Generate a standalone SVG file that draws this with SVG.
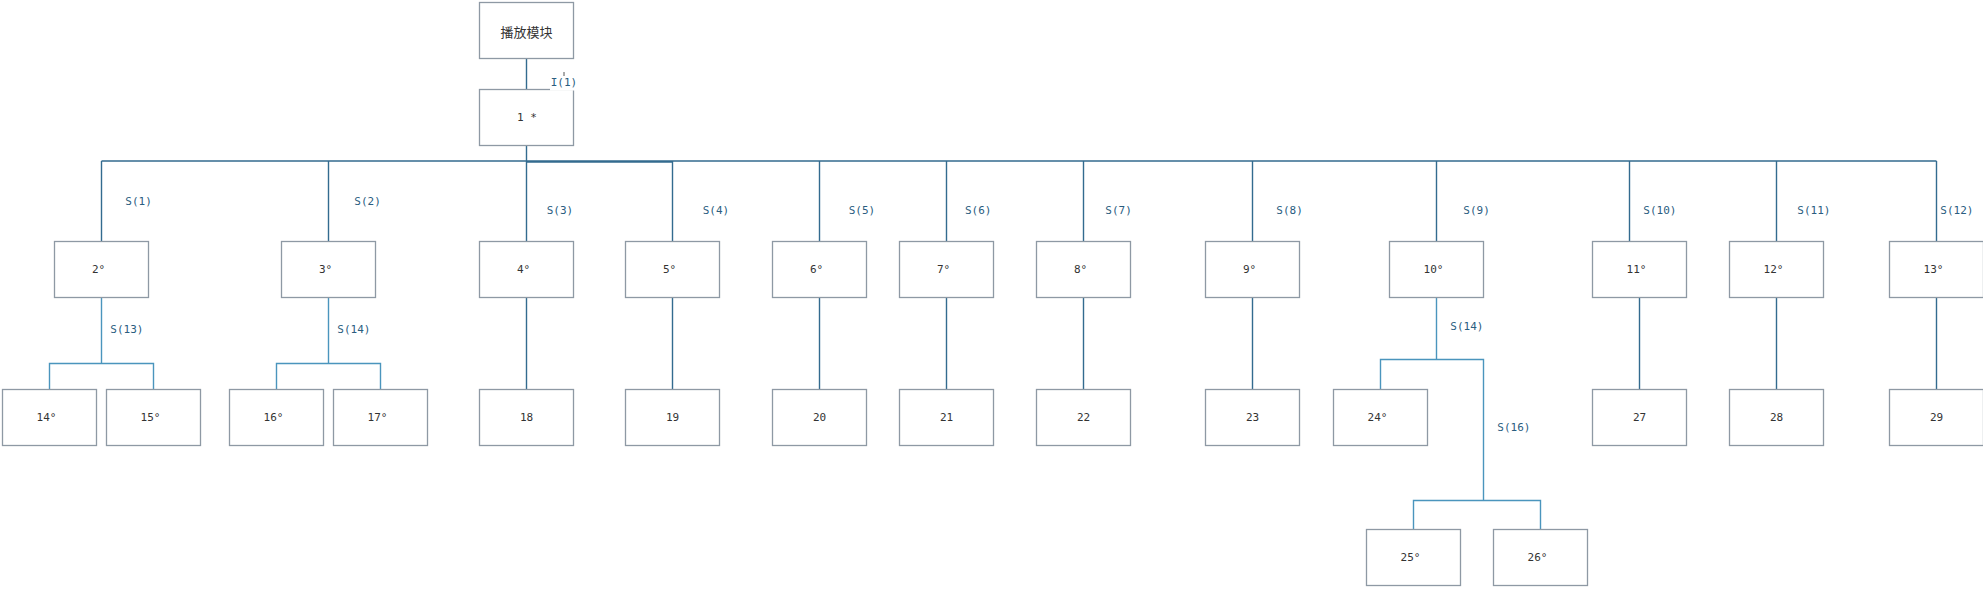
<svg xmlns="http://www.w3.org/2000/svg" width="1983" height="612" viewBox="0 0 1983 612">
<style>
.box{fill:#fff;stroke:#8e99a4;stroke-width:1.3}
.t{font-family:"DejaVu Sans Mono","Liberation Mono",monospace;font-size:11px;fill:#333;text-anchor:middle;dominant-baseline:central}
.cn{font-family:"Noto Sans CJK SC",sans-serif;font-size:13px;fill:#333;text-anchor:middle;dominant-baseline:central}
.lbl{font-family:"DejaVu Sans Mono","Liberation Mono",monospace;font-size:11px;fill:#2a5d7f;dominant-baseline:central}
.c1{fill:none;stroke:#336b8f;stroke-width:1.4}
.c2{fill:none;stroke:#4a95bd;stroke-width:1.4}
</style>
<rect width="1983" height="612" fill="#fff"/>
<g id="connectors">
<path class="c1" d="M526.5 58.5V89.5M526.5 145.5V161M101.5 161H1936.5M526.5 162H672.5"/>
<path class="c1" d="M101.5 161V241.5M328.5 161V241.5M526.5 161V241.5M672.5 161V241.5M819.5 161V241.5M946.5 161V241.5M1083.5 161V241.5M1252.5 161V241.5M1436.5 161V241.5M1629.5 161V241.5M1776.5 161V241.5M1936.5 161V241.5"/>
<path class="c1" d="M526.5 297.5V389.5M672.5 297.5V389.5M819.5 297.5V389.5M946.5 297.5V389.5M1083.5 297.5V389.5M1252.5 297.5V389.5M1639.5 297.5V389.5M1776.5 297.5V389.5M1936.5 297.5V389.5"/>
<path class="c2" d="M101.5 297.5V363.5M49.5 389.5V363.5H153.5V389.5"/>
<path class="c2" d="M328.5 297.5V363.5M276.5 389.5V363.5H380.5V389.5"/>
<path class="c2" d="M1436.5 297.5V359.5M1380.5 389.5V359.5H1483.5V500.5M1413.5 529.5V500.5H1540.5V529.5"/>
<line x1="564" y1="72" x2="564" y2="77" stroke="#555" stroke-width="1"/>
</g>
<g id="n_top"><rect class="box" x="479.5" y="2.5" width="94" height="56"/><text class="cn" x="526.5" y="31">播放模块</text></g>
<g id="n1"><rect class="box" x="479.5" y="89.5" width="94" height="56"/><text class="t" x="527" y="117.5">1 *</text></g>
<g id="lbl_i1"><rect x="550" y="76" width="27" height="14.5" fill="#fff"/><text class="lbl" x="550.7" y="82.3">I(1)</text></g>
<g id="n2"><rect class="box" x="54.5" y="241.5" width="94" height="56"/><text class="t" x="98.5" y="269.5">2°</text></g>
<g id="n3"><rect class="box" x="281.5" y="241.5" width="94" height="56"/><text class="t" x="325.5" y="269.5">3°</text></g>
<g id="n4"><rect class="box" x="479.5" y="241.5" width="94" height="56"/><text class="t" x="523.5" y="269.5">4°</text></g>
<g id="n5"><rect class="box" x="625.5" y="241.5" width="94" height="56"/><text class="t" x="669.5" y="269.5">5°</text></g>
<g id="n6"><rect class="box" x="772.5" y="241.5" width="94" height="56"/><text class="t" x="816.5" y="269.5">6°</text></g>
<g id="n7"><rect class="box" x="899.5" y="241.5" width="94" height="56"/><text class="t" x="943.5" y="269.5">7°</text></g>
<g id="n8"><rect class="box" x="1036.5" y="241.5" width="94" height="56"/><text class="t" x="1080.5" y="269.5">8°</text></g>
<g id="n9"><rect class="box" x="1205.5" y="241.5" width="94" height="56"/><text class="t" x="1249.5" y="269.5">9°</text></g>
<g id="n10"><rect class="box" x="1389.5" y="241.5" width="94" height="56"/><text class="t" x="1433.5" y="269.5">10°</text></g>
<g id="n11"><rect class="box" x="1592.5" y="241.5" width="94" height="56"/><text class="t" x="1636.5" y="269.5">11°</text></g>
<g id="n12"><rect class="box" x="1729.5" y="241.5" width="94" height="56"/><text class="t" x="1773.5" y="269.5">12°</text></g>
<g id="n13"><rect class="box" x="1889.5" y="241.5" width="94" height="56"/><text class="t" x="1933.5" y="269.5">13°</text></g>
<g id="n14"><rect class="box" x="2.5" y="389.5" width="94" height="56"/><text class="t" x="46.5" y="417.5">14°</text></g>
<g id="n15"><rect class="box" x="106.5" y="389.5" width="94" height="56"/><text class="t" x="150.5" y="417.5">15°</text></g>
<g id="n16"><rect class="box" x="229.5" y="389.5" width="94" height="56"/><text class="t" x="273.5" y="417.5">16°</text></g>
<g id="n17"><rect class="box" x="333.5" y="389.5" width="94" height="56"/><text class="t" x="377.5" y="417.5">17°</text></g>
<g id="n18"><rect class="box" x="479.5" y="389.5" width="94" height="56"/><text class="t" x="526.5" y="417.5">18</text></g>
<g id="n19"><rect class="box" x="625.5" y="389.5" width="94" height="56"/><text class="t" x="672.5" y="417.5">19</text></g>
<g id="n20"><rect class="box" x="772.5" y="389.5" width="94" height="56"/><text class="t" x="819.5" y="417.5">20</text></g>
<g id="n21"><rect class="box" x="899.5" y="389.5" width="94" height="56"/><text class="t" x="946.5" y="417.5">21</text></g>
<g id="n22"><rect class="box" x="1036.5" y="389.5" width="94" height="56"/><text class="t" x="1083.5" y="417.5">22</text></g>
<g id="n23"><rect class="box" x="1205.5" y="389.5" width="94" height="56"/><text class="t" x="1252.5" y="417.5">23</text></g>
<g id="n24"><rect class="box" x="1333.5" y="389.5" width="94" height="56"/><text class="t" x="1377.5" y="417.5">24°</text></g>
<g id="n25"><rect class="box" x="1366.5" y="529.5" width="94" height="56"/><text class="t" x="1410.5" y="557.5">25°</text></g>
<g id="n26"><rect class="box" x="1493.5" y="529.5" width="94" height="56"/><text class="t" x="1537.5" y="557.5">26°</text></g>
<g id="n27"><rect class="box" x="1592.5" y="389.5" width="94" height="56"/><text class="t" x="1639.5" y="417.5">27</text></g>
<g id="n28"><rect class="box" x="1729.5" y="389.5" width="94" height="56"/><text class="t" x="1776.5" y="417.5">28</text></g>
<g id="n29"><rect class="box" x="1889.5" y="389.5" width="94" height="56"/><text class="t" x="1936.5" y="417.5">29</text></g>
<g id="labels">
<text class="lbl" x="125.3" y="201.7">S(1)</text>
<text class="lbl" x="354.3" y="201.7">S(2)</text>
<text class="lbl" x="546.7" y="210.3">S(3)</text>
<text class="lbl" x="702.7" y="210.3">S(4)</text>
<text class="lbl" x="848.7" y="210.3">S(5)</text>
<text class="lbl" x="965" y="210.3">S(6)</text>
<text class="lbl" x="1105.3" y="210.3">S(7)</text>
<text class="lbl" x="1276.3" y="210.3">S(8)</text>
<text class="lbl" x="1463.3" y="210.3">S(9)</text>
<text class="lbl" x="1643.3" y="210.3">S(10)</text>
<text class="lbl" x="1797.3" y="210.3">S(11)</text>
<text class="lbl" x="1940.3" y="210.3">S(12)</text>
<text class="lbl" x="110.3" y="329.3">S(13)</text>
<text class="lbl" x="337.3" y="329.3">S(14)</text>
<text class="lbl" x="1450.3" y="326.7">S(14)</text>
<text class="lbl" x="1497.3" y="427.3">S(16)</text>
</g>
</svg>
